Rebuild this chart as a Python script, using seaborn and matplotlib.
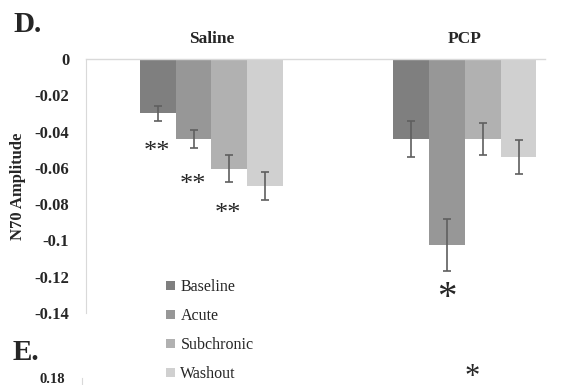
import matplotlib
matplotlib.use("Agg")
import matplotlib.pyplot as plt
import seaborn as sns
import pandas as pd
import numpy as np

groups = ["Saline", "PCP"]
conditions = ["Baseline", "Acute", "Subchronic", "Washout"]
saline_vals = [-0.030, -0.044, -0.0605, -0.070]
saline_err = [0.004, 0.005, 0.0075, 0.0078]
pcp_vals = [-0.044, -0.1025, -0.044, -0.054]
pcp_err = [0.010, 0.0143, 0.009, 0.0095]
colors = ["#7f7f7f", "#979797", "#b1b1b1", "#d0d0d0"]
y_ticks = [0, -0.02, -0.04, -0.06, -0.08, -0.1, -0.12, -0.14]
y_ticklabels = ["0", "-0.02", "-0.04", "-0.06", "-0.08", "-0.1", "-0.12", "-0.14"]

sns.set_style("white")
plt.rcParams["font.family"] = ["Liberation Serif", "DejaVu Serif"]

df = pd.DataFrame({
    "group": [g for g in groups for _ in conditions],
    "condition": conditions * 2,
    "value": saline_vals + pcp_vals,
    "err": saline_err + pcp_err,
})

fig = plt.figure(figsize=(5.72, 3.85), dpi=100)
ax = fig.add_axes([86 / 572, 1 - 313 / 385, (545 - 86) / 572, (313 - 59) / 385])

sns.barplot(data=df, x="group", y="value", hue="condition", order=groups,
            hue_order=conditions, palette=colors, errorbar=None, width=0.564,
            gap=0, linewidth=0, saturation=1, ax=ax)

# error bars at bar centers
for cont, cond in zip(ax.containers, conditions):
    for patch, grp in zip(cont.patches, groups):
        row = df[(df.group == grp) & (df.condition == cond)].iloc[0]
        xc = patch.get_x() + patch.get_width() / 2
        ax.errorbar(xc, row.value, yerr=row.err, color="#5f5f5f", lw=1.2,
                    capsize=3.2, capthick=1.2, zorder=5)

ax.set_xlim(-0.495, 1.316)
ax.set_ylim(-0.14, 0)
ax.set_yticks(y_ticks)
ax.set_yticklabels(y_ticklabels, fontsize=12, fontweight="bold")
ax.tick_params(axis="y", length=4, width=0.8, color="#d9d9d9", direction="out", pad=8)
ax.xaxis.tick_top()
ax.set_xticks([0, 1])
ax.set_xticklabels(groups, fontsize=12.5, fontweight="bold")
ax.tick_params(axis="x", length=0, pad=8.3)
ax.set_xlabel("")
ax.set_ylabel("N70 Amplitude", fontsize=12, fontweight="bold", labelpad=6)
for s in ["bottom", "right"]:
    ax.spines[s].set_visible(False)
ax.spines["top"].set_color("#d9d9d9")
ax.spines["left"].set_color("#d9d9d9")
ax.spines["top"].set_linewidth(1.0)
ax.spines["left"].set_linewidth(0.8)

# significance marks
ax.text(-0.215, -0.0514, "**", fontsize=19, ha="center", va="center")
ax.text(-0.073, -0.0694, "**", fontsize=19, ha="center", va="center")
ax.text(0.066, -0.0854, "**", fontsize=19, ha="center", va="center")
ax.text(0.93, -0.1318, "*", fontsize=28, ha="center", va="center")

leg = ax.legend(loc="upper left", bbox_to_anchor=(166 / 572, 1 - 279 / 385),
                bbox_transform=fig.transFigure, frameon=False, fontsize=11.5,
                handlelength=0.55, handleheight=0.55, handletextpad=0.35,
                labelspacing=0.82, borderpad=0, borderaxespad=0)

# panel labels
fig.text(13 / 572, 1 - 25 / 385, "D.", fontsize=21, fontweight="bold", va="center", ha="left")
fig.text(13 / 572, 1 - 353 / 385, "E.", fontsize=21, fontweight="bold", va="center", ha="left")

# stub of panel E at the bottom
ax2 = fig.add_axes([82 / 572, -0.3, (545 - 82) / 572, 0.3 + (385 - 378) / 385])
ax2.set_xlim(-0.495, 1.316)
ax2.set_ylim(0, 0.18)
ax2.set_yticks([0.18])
ax2.set_yticklabels(["0.18"], fontsize=10.5, fontweight="bold")
ax2.set_xticks([])
ax2.tick_params(axis="y", length=4, width=0.8, color="#d9d9d9", pad=8)
for s in ["top", "right", "bottom"]:
    ax2.spines[s].set_visible(False)
ax2.spines["left"].set_color("#d9d9d9")
ax2.patch.set_alpha(0)
fig.text(472 / 572, 1 - 378 / 385, "*", fontsize=22, ha="center", va="center")

fig.savefig("out.png", dpi=100)
